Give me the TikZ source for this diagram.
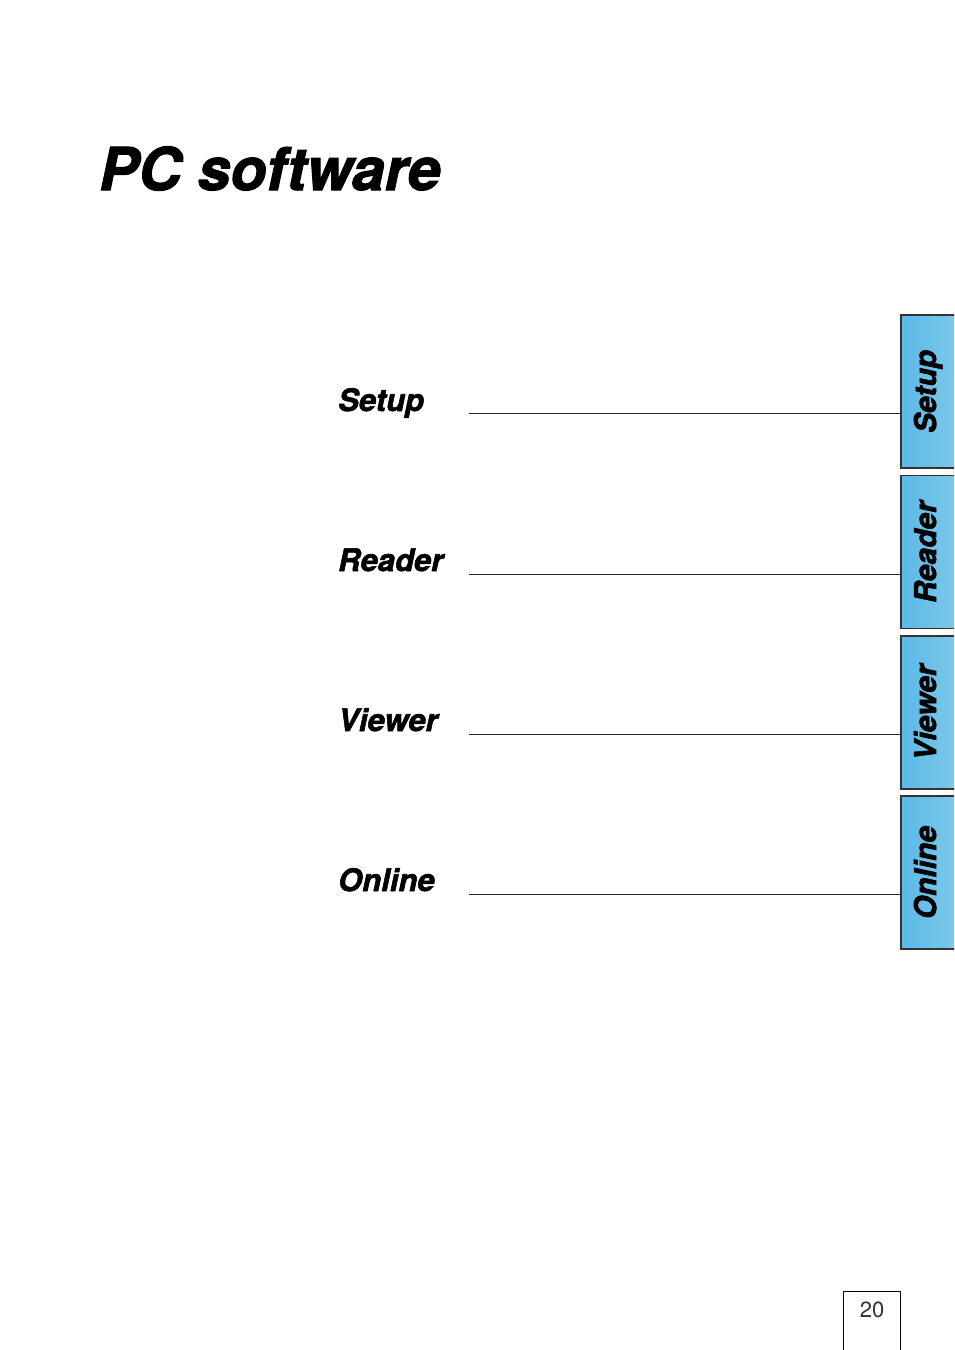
\documentclass[tikz,border=0pt]{standalone}
\usepackage{fontspec}
\setmainfont{TeX Gyre Heros}
\newfontfamily\blackfont{TeX Gyre Heros}[BoldItalicFeatures={FakeBold=1.8}]
\usetikzlibrary{positioning}
\definecolor{tabblue}{HTML}{5BB9E6}
\definecolor{tablight}{HTML}{80CAEA}
\newcommand{\tabtext}[1]{\raisebox{-4pt}[0pt][0pt]{#1}}
\tikzset{
  heading/.style={font=\fontsize{31}{31}\selectfont\blackfont\bfseries\itshape, anchor=base west, inner sep=0pt},
  tabbox/.style={draw=black!80, line width=1.2pt, rotate=90, minimum width=153pt, minimum height=62pt,
    left color=tabblue, right color=tablight, inner sep=0pt,
    font=\fontsize{30}{30}\selectfont\blackfont\bfseries\itshape},
  rule/.style={line width=0.9pt, black!85}
}

\begin{document}
\begin{tikzpicture}[x=1pt,y=-1pt]
			%%%%% START %%%%%
			\useasboundingbox (0,0) rectangle (954,1350);
			\clip (0,0) rectangle (954,1350);
			
			\node[anchor=base west, inner sep=0pt, font=\fontsize{59}{59}\selectfont\blackfont\bfseries\itshape] (title) at (99,190) {PC software};
			
			% tabs on the right edge
			\node[tabbox] (setupTab) at (932,391.5) {\tabtext{Setup}};
			\node[tabbox] (readerTab) at (932,552) {\tabtext{Reader}};
			\node[tabbox] (viewerTab) at (932,712.5) {\tabtext{Viewer}};
			\node[tabbox] (onlineTab) at (932,872.5) {\tabtext{Online}};
			
			% section names with their rules
			\node[heading] (setup) at (338,411) {Setup};
			\coordinate (setupL) at (469,413);
			\draw[rule] (setupL) -- (setupTab.north |- setupL);
			
			\node[heading] (reader) at (338,571) {Reader};
			\coordinate (readerL) at (469,574);
			\draw[rule] (readerL) -- (readerTab.north |- readerL);
			
			\node[heading] (viewer) at (338,731) {Viewer};
			\coordinate (viewerL) at (469,734);
			\draw[rule] (viewerL) -- (viewerTab.north |- viewerL);
			
			\node[heading] (online) at (338,891) {Online};
			\coordinate (onlineL) at (469,894);
			\draw[rule] (onlineL) -- (onlineTab.north |- onlineL);
			
			% page number
			\draw[line width=1pt] (843,1360) -- (843,1291) -- (900,1291) -- (900,1360);
			\node[anchor=base, inner sep=0pt, font=\fontsize{22}{22}\selectfont, text=black!80] (page) at (872,1317) {20};
			
			%%%%% END %%%%%
\end{tikzpicture}
\end{document}
